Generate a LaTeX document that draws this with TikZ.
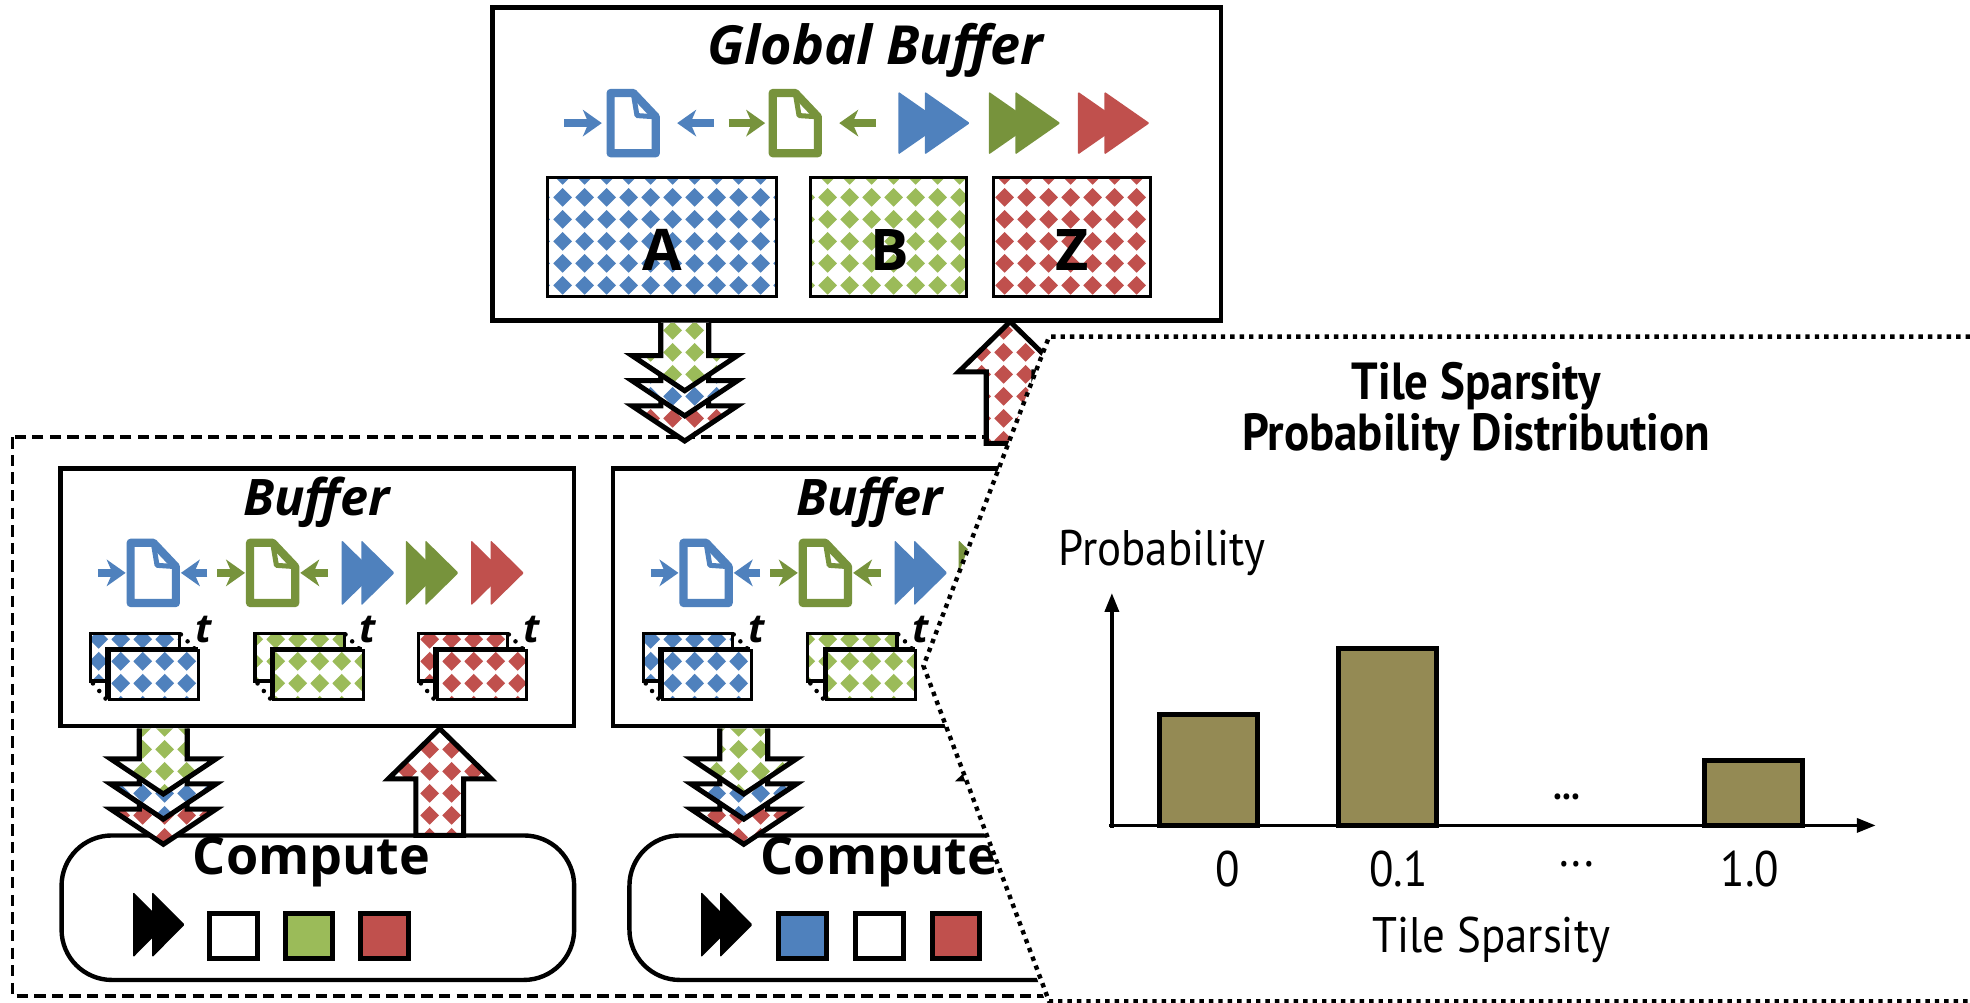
\documentclass[tikz,border=0pt]{standalone}
\usepackage{fontspec}
\setmainfont{Open Sans}
\newfontfamily\chartfont{PT Sans}[FakeStretch=0.9]
\usetikzlibrary{arrows.meta,patterns}

\definecolor{gbblue}{HTML}{4F81BD}
\definecolor{gbgreen}{HTML}{9BBB59}
\definecolor{icongreen}{HTML}{77933C}
\definecolor{gbred}{HTML}{C0504D}
\definecolor{barolive}{HTML}{948A54}

% diamond tiling for the data tiles
\pgfdeclarepatternformonly{diamonds}{\pgfpointorigin}{\pgfqpoint{5pt}{5pt}}{\pgfqpoint{5pt}{5pt}}{%
  \pgfpathmoveto{\pgfqpoint{2.5pt}{0.3pt}}%
  \pgfpathlineto{\pgfqpoint{4.7pt}{2.5pt}}%
  \pgfpathlineto{\pgfqpoint{2.5pt}{4.7pt}}%
  \pgfpathlineto{\pgfqpoint{0.3pt}{2.5pt}}%
  \pgfpathclose
  \pgfusepath{fill}}

\tikzset{
  box/.style={draw, line width=0.035cm, fill=white},
  tile/.style={draw, line width=0.025cm, preaction={fill=white}, pattern=diamonds, pattern color=#1},
  flow/.style={draw, line width=0.04cm, line join=miter, preaction={fill=white}, pattern=diamonds, pattern color=#1},
  slot/.style={draw, line width=0.04cm},
  dashframe/.style={line width=0.03cm, dash pattern=on 0.09cm off 0.05cm},
  zoomline/.style={line width=0.035cm, dash pattern=on 0.035cm off 0.04cm},
  title/.style={font=\bfseries\itshape\fontsize{12.2}{14}\selectfont},
  subtitle/.style={font=\bfseries\itshape\fontsize{11.4}{13}\selectfont},
  unit/.style={font=\bfseries\fontsize{11.8}{14}\selectfont},
  mat/.style={font=\bfseries\fontsize{13}{15}\selectfont},
  chartttl/.style={font=\chartfont\bfseries\fontsize{11.8}{11.6}\selectfont, align=center},
  chartlab/.style={font=\chartfont\fontsize{11.3}{12}\selectfont},
  axis/.style={line width=0.03cm, -{Triangle[length=0.15cm, width=0.11cm]}},
}

% document icon centred at (#1,#2)
\newcommand{\docicon}[3]{%
  \draw[#3, line width=0.065cm, line join=round, fill=white]
    (#1-18,#2+24) -- (#1-18,#2-24) -- (#1,#2-24) -- (#1+18,#2-5) -- (#1+18,#2+24) -- cycle;
  \draw[#3, line width=0.04cm, line join=round] (#1,#2-24) -- (#1+3,#2-6) -- (#1+18,#2-5);
}
% short arrow from x=#1 to x=#2 at height #3
\newcommand{\smallarr}[4]{%
  \draw[#4, line width=0.06cm, -{Stealth[length=0.15cm, width=0.21cm, inset=0.045cm]}] (#1,#3) -- (#2,#3);
}
% fast-forward sign: left x, centre y, width, height, colour
\newcommand{\fastfwd}[5]{%
  \fill[#5, rounded corners=0.01cm] (#1,#2-#4/2) -- (#1+0.63*#3,#2) -- (#1,#2+#4/2) -- cycle;
  \fill[#5, rounded corners=0.01cm] (#1+0.37*#3,#2-#4/2) -- (#1+#3,#2) -- (#1+0.37*#3,#2+#4/2) -- cycle;
}
% stack of tiles over time, top-left corner of the back tile
\newcommand{\tilestack}[3]{%
  \draw[tile=#3] (#1,#2) rectangle ++(71,38);
  \draw[tile=#3] (#1+13,#2+12) rectangle ++(71,39);
  \draw[tile=#3] (#1+15,#2+14) rectangle ++(71,39);
  \foreach \k in {0,1,2} {
    \fill (#1+72+5.3*\k,#2+1+5.5*\k) circle (0.018cm);
    \fill (#1+2+5*\k,#2+40+6*\k) circle (0.018cm);
  }
  \node[font=\bfseries\itshape\fontsize{9}{9}\selectfont] (t#1) at (#1+90,#2-3) {t};
}
% three stacked down arrows (B, A, Z tiles): centre x, shaft top, first head
\newcommand{\chevrons}[3]{%
  \foreach \k/\c in {2/gbred,1/gbblue,0/gbgreen} {
    \draw[flow=\c] (#1-19,#2) -- (#1-19,#3+20*\k) -- (#1-42,#3+20*\k) -- (#1,#3+20*\k+28)
      -- (#1+42,#3+20*\k) -- (#1+19,#3+20*\k) -- (#1+19,#2);
  }
}
% up arrow carrying Z: centre x, tip y, bottom y
\newcommand{\uparr}[3]{%
  \draw[flow=gbred] (#1-19,#3) -- (#1-19,#2+40) -- (#1-41,#2+40) -- (#1,#2)
    -- (#1+41,#2+40) -- (#1+19,#2+40) -- (#1+19,#3) -- cycle;
}

\begin{document}
\begin{tikzpicture}[x=0.01cm, y=-0.01cm]
  \useasboundingbox (0,0) rectangle (1568,798);

  % frame round the processing elements
  \draw[dashframe] (10,348) rectangle (845,793);

  % Global buffer
  \draw[box] (392,6) rectangle (972,255);
  \node[title] (gbuf) at (697,40) {Global Buffer};
  \smallarr{449}{479}{98}{gbblue}
  \docicon{504}{98}{gbblue}
  \smallarr{568}{539}{98}{gbblue}
  \smallarr{580}{609}{98}{icongreen}
  \docicon{633}{98}{icongreen}
  \smallarr{697}{668}{98}{icongreen}
  \fastfwd{715}{98}{57}{50}{gbblue}
  \fastfwd{787}{98}{57}{50}{icongreen}
  \fastfwd{858}{98}{57}{50}{gbred}

  % full matrices
  \draw[tile=gbblue] (436,141) rectangle (618,236);
  \draw[tile=gbgreen] (645,141) rectangle (769,236);
  \draw[tile=gbred] (791,141) rectangle (916,236);
  \node[mat] (matA) at (527,199) {A};
  \node[mat] (matB) at (708,199) {B};
  \node[mat] (matZ) at (853,199) {Z};

  % traffic between global buffer and the PEs
  \chevrons{545}{257}{283}
  \uparr{804}{256}{353}

  % two PE buffers
  \foreach \bx in {0,440} {
    \begin{scope}[shift={(\bx,0)}]
      \draw[box] (48,373) rectangle (457,578);
      \node[subtitle] (buf\bx) at (252,400) {Buffer};
      \smallarr{78}{100}{456}{gbblue}
      \docicon{122}{456}{gbblue}
      \smallarr{165}{144}{456}{gbblue}
      \smallarr{173}{195}{456}{icongreen}
      \docicon{217}{456}{icongreen}
      \smallarr{261}{239}{456}{icongreen}
      \fastfwd{272}{456}{42}{52}{gbblue}
      \fastfwd{323}{456}{42}{52}{icongreen}
      \fastfwd{375}{456}{42}{52}{gbred}
      \tilestack{72}{504}{gbblue}
      \tilestack{203}{504}{gbgreen}
      \tilestack{333}{504}{gbred}
    \end{scope}
  }

  % compute units
  \draw[box, rounded corners=0.4cm] (49,665) rectangle (457,780);
  \node[unit] (comp1) at (248,686) {Compute};
  \fastfwd{106}{736}{41}{52}{black}
  \draw[slot, fill=white] (167,727) rectangle ++(38,36);
  \draw[slot, fill=gbgreen] (227,727) rectangle ++(38,36);
  \draw[slot, fill=gbred] (287,727) rectangle ++(38,36);

  \draw[box, rounded corners=0.4cm] (501,665) rectangle (909,780);
  \node[unit] (comp2) at (700,686) {Compute};
  \fastfwd{558}{736}{41}{52}{black}
  \draw[slot, fill=gbblue] (620,727) rectangle ++(38,36);
  \draw[slot, fill=white] (681,727) rectangle ++(38,36);
  \draw[slot, fill=gbred] (742,727) rectangle ++(38,36);

  % buffer <-> compute
  \chevrons{130}{580}{604}
  \uparr{350}{580}{665}
  \chevrons{592}{580}{604}
  \uparr{806}{580}{665}

  % zoomed view
  \fill[white] (735,530) -- (835,268) -- (1575,268) -- (1575,805) -- (835,805) -- cycle;
  \draw[zoomline] (1568,268) -- (835,268) -- (735,530) -- (835,797) -- (1568,797);

  % sparsity histogram
  \node[chartttl] (ctitle) at (1175,328) {Tile Sparsity\\Probability Distribution};
  \node[chartlab] (ylab) at (925,440) {Probability};
  \coordinate (orig) at (885,657);
  \draw[axis] (885,659) -- (885,472);
  \draw[axis] (883,657) -- (1493,657);
  \foreach \x/\h in {923/569, 1065/516, 1357/605} {
    \draw[line width=0.04cm, fill=barolive] (\x,657) rectangle (\x+78,\h);
  }
  \node[chartlab, font=\chartfont\bfseries\fontsize{9}{9}\selectfont] (gap) at (1247,634) {...};
  \node[chartlab] (x0) at (977,692) {0};
  \node[chartlab] (x1) at (1113,692) {0.1};
  \node[chartlab] (xd) at (1255,688) {...};
  \node[chartlab] (x2) at (1393,692) {1.0};
  \node[chartlab] (xlab) at (1187,748) {Tile Sparsity};
\end{tikzpicture}
\end{document}
